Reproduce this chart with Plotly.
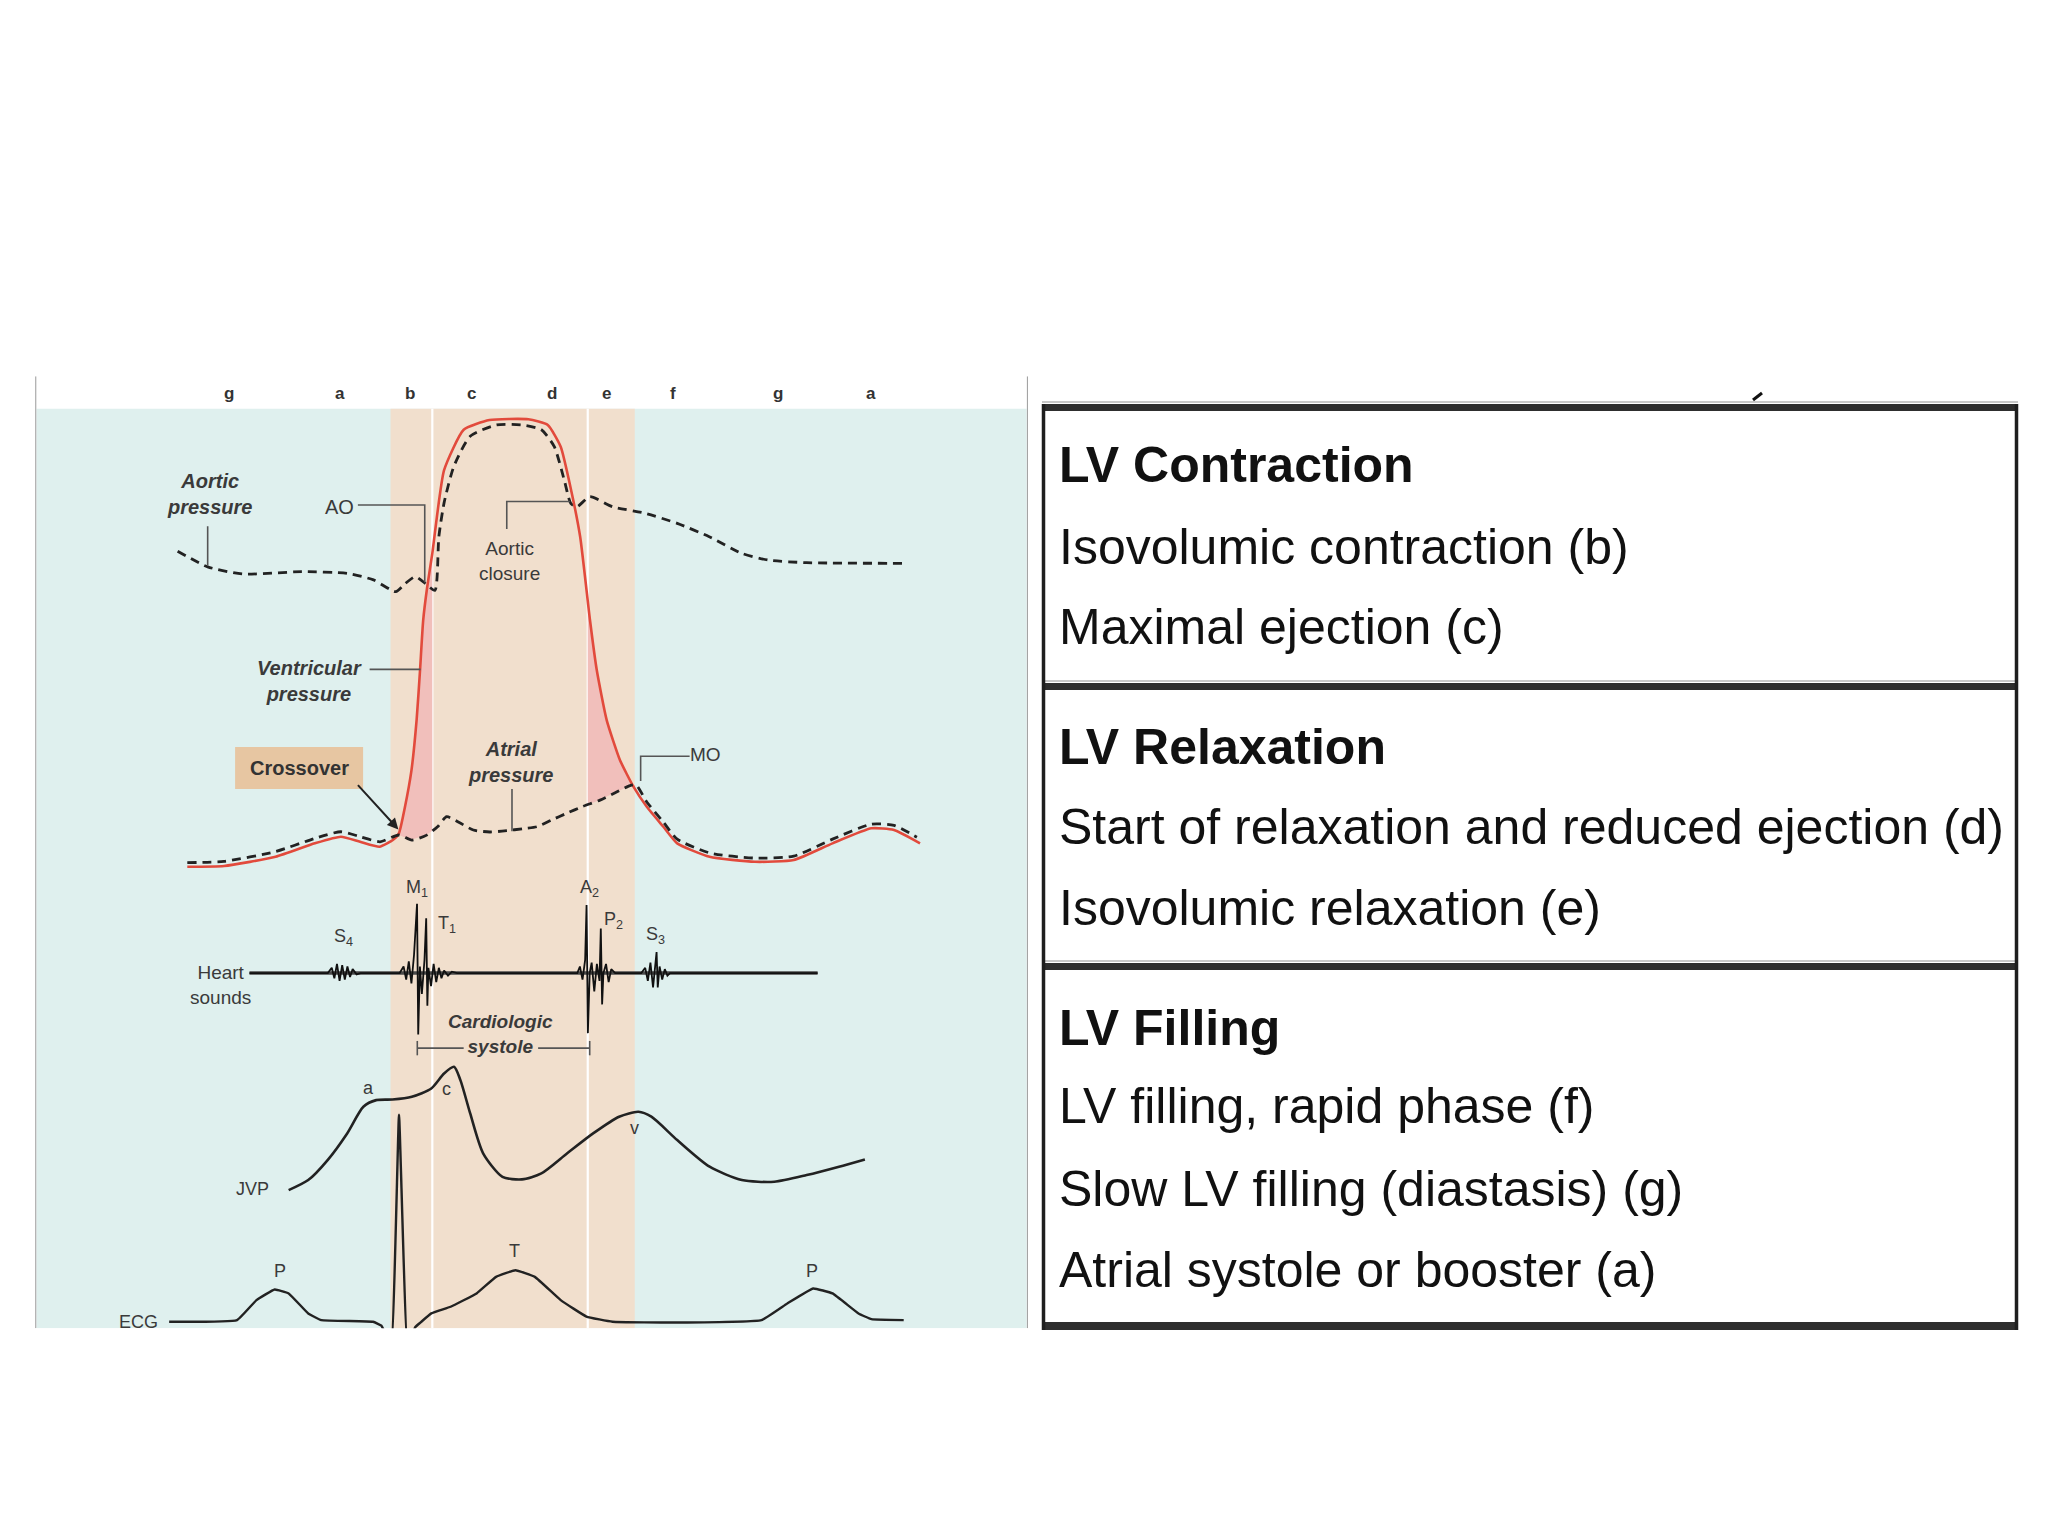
import numpy as np
import plotly.graph_objects as go

W, H = 2048, 1536

# ---------------- data (time axis in arbitrary units, level axis in arbitrary units, higher = up) -------------
phase_letters = ["g", "a", "b", "c", "d", "e", "f", "g", "a"]
phase_letter_t = [175, 260, 314, 361, 423, 464, 515, 596, 667]
phase_bounds = [299, 331, 450, 486]  # start b, start c, start e, start f

aortic_t = [136, 159, 186, 231, 266, 286, 303, 310, 318, 326, 333, 336, 340, 347.5, 360, 380, 400,
            414.5, 424.4, 432, 437, 441.7, 451.6, 469, 494, 518.5, 543, 568, 588, 617.6, 694]
aortic_p = [422, 434, 439.5, 437.7, 439, 444, 453, 447, 441.5, 447, 452, 411, 385, 357, 334, 325.4, 325.4,
            329, 342, 367.5, 385.4, 388, 380.3, 388, 393, 400.7, 410.9, 423.7, 428.8, 430.8, 431.3]

vent_t = [143.4, 171.6, 211, 241, 261, 275.7, 290.6, 301, 305.4, 310, 315, 319, 321.6, 324, 327, 331, 340, 355,
          374.8, 404.5, 419.4, 429.3, 436.7, 444.2, 451.7, 456.9, 464.5, 474.7, 485, 495.2, 507.9, 518.5,
          543.3, 578, 607.7, 637.4, 667.2, 684.5, 704.4]
vent_p = [663.6, 663, 656, 645.7, 640.6, 644.5, 648.3, 643, 638, 618, 590, 551, 513, 475, 450, 423.7, 360, 329,
          321.6, 321, 325.4, 342, 372.6, 411, 474.7, 513, 551.3, 582, 602.3, 617.7, 633, 645.7,
          656, 659.8, 658.5, 645.7, 634.2, 635.5, 645.7]

atrial_t = [143.4, 171.6, 211, 241, 261, 275.7, 291, 305.4, 315.3, 326.7, 335, 342, 352, 362.4, 375, 388, 400,
            411, 422, 433.9, 446, 459.4, 471, 482.4, 487, 495.2, 507.9, 518.5, 543.3, 578, 607.7, 637.4,
            667.2, 684.5, 702]
atrial_p = [660.5, 659.5, 652, 641.9, 636.8, 640.6, 644.5, 639.3, 643.2, 639.4, 633, 625.3, 630, 635.5, 637, 636,
            634.5, 633, 628, 622.7, 617.5, 612.6, 607, 601.5, 601, 614, 629.5, 642.5, 653, 657, 655.5, 642.5,
            631, 632, 641]

heart_t = [191, 251, 254, 256, 258, 260, 262, 264, 266, 268, 270, 273, 276,
           306, 309, 311, 313, 315, 317, 319.3, 320.2, 321.5, 323, 325, 326.3, 327.2, 328, 330, 332, 334, 336,
           338, 340, 343, 346, 350,
           442, 444, 446, 448, 449.1, 450.1, 451.5, 453, 455, 457, 459, 460, 461, 462, 464, 466, 468, 471,
           491, 494, 496, 498, 500, 502.7, 503.6, 505, 507, 509, 511, 513, 626]
heart_v = [745, 745, 741, 749, 738, 751, 739, 750, 740, 748, 742, 746, 745,
           745, 740, 750, 736, 753, 731, 692, 792, 740, 761, 735, 703, 770, 741, 755, 738, 752, 741,
           749, 743, 747, 744, 745,
           745, 740, 750, 735, 693, 791, 745, 737, 759, 738, 751, 711, 769, 745, 738, 752, 742, 745,
           745, 741, 751, 737, 756, 729, 756, 740, 750, 742, 747, 745, 745]

jvp_t = [221, 236, 251, 265.8, 278.2, 288, 300.5, 315.3, 330.2, 340, 347.6, 352.5, 360, 369.9, 384.7, 399.6,
         414.5, 434.3, 454.1, 474, 488.8, 498.7, 518.5, 543.3, 568, 592.8, 617.6, 642.4, 662.2]
jvp_v = [911.2, 903.5, 888, 867.8, 847.4, 842.3, 841.8, 839.7, 833.4, 821.9, 816.8, 827, 852.5, 883, 901, 903,
         898.4, 883, 867.8, 855, 851.2, 855, 872.9, 893.3, 903.5, 904.8, 899.7, 893.3, 887.7]

ecg_t = [129.5, 181.5, 196.4, 210.3, 221, 236, 246, 285.6, 292, 299.5, 305.5, 312, 318, 322, 330.2, 345,
         364.9, 379.8, 394.6, 409.5, 429.3, 449, 469, 518.5, 583, 602.8, 622.6, 637.4, 657.3, 667.2, 691.9]
ecg_v = [1012, 1010.7, 995.4, 987.3, 990.3, 1005.6, 1010.7, 1012, 1015, 1030, 853.5, 1030, 1016, 1012.5,
         1005.6, 1000.5, 990.3, 977.6, 972.5, 977.6, 995.4, 1008, 1012, 1012.6, 1010.7, 998, 986.5, 990.3,
         1005.6, 1010, 1010.7]

table_rows = [
    ("LV Contraction", ["Isovolumic contraction (b)", "Maximal ejection (c)"]),
    ("LV Relaxation", ["Start of relaxation and reduced ejection (d)", "Isovolumic relaxation (e)"]),
    ("LV Filling", ["LV filling, rapid phase (f)", "Slow LV filling (diastasis) (g)",
                    "Atrial systole or booster (a)"]),
]

# ---------------- styles ----------------
CYAN = "#dff0ee"
BEIGE = "#f1dfcd"
PINK = "#f1bfbb"
RED = "#e24a3c"
INK = "#222222"
LABEL = "#3a3a3a"
FONT = "Liberation Sans, Arial, Helvetica, sans-serif"
TABLE_FONT = "Liberation Sans, Arial, Helvetica, sans-serif"

T0, T1 = 27, 787
Y_TOP, Y_BOT = 288, 1017
SHADE_TOP = 313

fig = go.Figure()

vt = np.array(vent_t); vp = np.array(vent_p)
at = np.array(atrial_t); ap = np.array(atrial_p)
def pink_poly(t_start, t_end):
    grid = np.linspace(t_start, t_end, 40)
    top = np.interp(grid, vt, vp)
    bot = np.interp(grid, at, ap)
    xs = np.concatenate([grid, grid[::-1]])
    ys = np.concatenate([top, bot[::-1]])
    return xs, ys

for a, b in [(305.4, phase_bounds[1]), (phase_bounds[2], 486.3)]:
    xs, ys = pink_poly(a, b)
    fig.add_trace(go.Scatter(x=xs, y=ys, mode="lines", fill="toself", fillcolor=PINK,
                             line=dict(width=0), hoverinfo="skip", showlegend=False))

dash = "9px,6px"
fig.add_trace(go.Scatter(x=aortic_t, y=aortic_p, mode="lines",
                         line=dict(color=INK, width=2.8, dash=dash, shape="spline", smoothing=0.6),
                         showlegend=False))
fig.add_trace(go.Scatter(x=vent_t, y=vent_p, mode="lines",
                         line=dict(color=RED, width=2.6, shape="spline", smoothing=0.5), showlegend=False))
fig.add_trace(go.Scatter(x=atrial_t, y=atrial_p, mode="lines",
                         line=dict(color=INK, width=2.8, dash=dash, shape="spline", smoothing=0.6),
                         showlegend=False))
fig.add_trace(go.Scatter(x=[heart_t[0], heart_t[-1]], y=[heart_v[0], heart_v[-1]], mode="lines",
                         line=dict(color="#4a4a4a", width=3.5), showlegend=False))
fig.add_trace(go.Scatter(x=heart_t, y=heart_v, mode="lines",
                         line=dict(color="#111111", width=1.8), showlegend=False))
fig.add_trace(go.Scatter(x=jvp_t, y=jvp_v, mode="lines",
                         line=dict(color=INK, width=2.6, shape="spline", smoothing=0.7), showlegend=False))
fig.add_trace(go.Scatter(x=ecg_t, y=ecg_v, mode="lines",
                         line=dict(color=INK, width=2.4, shape="spline", smoothing=0.3), showlegend=False))

shapes = []
shapes.append(dict(type="rect", xref="x", yref="y", x0=T0 + 1, x1=T1 - 1, y0=SHADE_TOP, y1=Y_BOT,
                   fillcolor=CYAN, line=dict(width=0), layer="below"))
shapes.append(dict(type="rect", xref="x", yref="y", x0=phase_bounds[0], x1=phase_bounds[3], y0=SHADE_TOP,
                   y1=Y_BOT, fillcolor=BEIGE, line=dict(width=0), layer="below"))
for xb in (phase_bounds[1], phase_bounds[2]):
    shapes.append(dict(type="line", xref="x", yref="y", x0=xb, x1=xb, y0=SHADE_TOP, y1=Y_BOT,
                       line=dict(color="white", width=2.2), layer="below"))
for xb in (T0, T1):
    shapes.append(dict(type="line", xref="x", yref="y", x0=xb, x1=xb, y0=Y_TOP, y1=Y_BOT,
                       line=dict(color="#9a9a9a", width=2)))

def leader(points):
    path = "M " + " L ".join(f"{x},{y}" for x, y in points)
    shapes.append(dict(type="path", xref="x", yref="y", path=path,
                       line=dict(color="#555555", width=1.6)))

leader([(159, 403), (159, 433)])
leader([(274, 386.7), (325.2, 386.7), (325.2, 446)])
leader([(388, 405), (388, 384), (436.5, 384)])
leader([(283, 512.5), (322, 512.5)])
leader([(392, 604), (392, 636.5)])
leader([(528, 579), (490.5, 579), (490.5, 598)])
leader([(319.5, 802.5), (355, 802.5)])
leader([(412, 802.5), (451.5, 802.5)])
leader([(319.5, 797), (319.5, 808)])
leader([(451.5, 797), (451.5, 808)])
shapes.append(dict(type="rect", xref="x", yref="y", x0=180, x1=278, y0=572, y1=604,
                   fillcolor="#e7c6a2", line=dict(width=0)))

annotations = []
def txt(x, y, s, size=20, color=LABEL, xanchor="center", font=FONT, xref="x", yref="y"):
    annotations.append(dict(x=x, y=y, xref=xref, yref=yref, text=s, showarrow=False,
                            xanchor=xanchor, yanchor="middle",
                            font=dict(family=font, size=size, color=color)))

for lt, lx in zip(phase_letters, phase_letter_t):
    txt(lx, 301, f"<b>{lt}</b>", size=17, color="#333333")

txt(161, 378.5, "<b><i>Aortic</i></b><br><b><i>pressure</i></b>", size=20)
txt(260, 388, "AO", size=20)
txt(390, 429.5, "Aortic<br>closure", size=19)
txt(237, 521.5, "<b><i>Ventricular</i></b><br><b><i>pressure</i></b>", size=20)
txt(229, 588, "<b>Crossover</b>", size=20, color="#333333")
txt(391, 583.5, "<b><i>Atrial</i></b><br><b><i>pressure</i></b>", size=20)
txt(540, 578, "MO", size=19)
txt(319, 680, "M<sub>1</sub>", size=18)
txt(342, 708, "T<sub>1</sub>", size=18)
txt(451, 680, "A<sub>2</sub>", size=18)
txt(470, 705, "P<sub>2</sub>", size=18)
txt(502, 716, "S<sub>3</sub>", size=18)
txt(263, 718, "S<sub>4</sub>", size=18)
txt(169, 754, "Heart<br>sounds", size=19)
txt(383, 791.5, "<b><i>Cardiologic</i></b><br><b><i>systole</i></b>", size=19)
txt(282, 833, "a", size=18)
txt(342, 834, "c", size=18)
txt(486, 864, "v", size=18)
txt(193, 910, "JVP", size=18)
txt(394, 958, "T", size=18)
txt(214, 973, "P", size=18)
txt(622, 973, "P", size=18)
txt(106, 1012, "ECG", size=18)

annotations.append(dict(x=305, y=635, ax=273, ay=600, xref="x", yref="y", axref="x", ayref="y",
                        text="", showarrow=True, arrowhead=2, arrowsize=1.1, arrowwidth=2,
                        arrowcolor="#222222", standoff=0))

def px(x):
    return x / W
def py(y):
    return 1 - y / H

TL, TR = 1042, 2018
band = [(404, 411), (683, 690), (963, 970), (1322, 1330)]
for y0, y1 in band:
    shapes.append(dict(type="rect", xref="paper", yref="paper", x0=px(TL), x1=px(TR), y0=py(y1), y1=py(y0),
                       fillcolor="#2e2e2e", line=dict(width=0)))
for y0, _ in band[:3]:
    shapes.append(dict(type="line", xref="paper", yref="paper", x0=px(TL), x1=px(TR), y0=py(y0 - 2),
                       y1=py(y0 - 2), line=dict(color="#c8c8c8", width=2)))
for xb in (TL + 1.5, TR - 1.5):
    shapes.append(dict(type="line", xref="paper", yref="paper", x0=px(xb), x1=px(xb), y0=py(1330),
                       y1=py(404), line=dict(color="#1e1e1e", width=3.5)))
shapes.append(dict(type="line", xref="paper", yref="paper", x0=px(1753), x1=px(1762), y0=py(400), y1=py(393),
                   line=dict(color="#111111", width=3)))

line_y = [[465, 547, 627], [747, 827, 908], [1028, 1106, 1189, 1270]]
for (head, items), ys in zip(table_rows, line_y):
    txt(px(1057), py(ys[0]), f"<b>{head}</b>", size=50, color="#111111", xanchor="left", font=TABLE_FONT,
        xref="paper", yref="paper")
    for it, yy in zip(items, ys[1:]):
        txt(px(1057), py(yy), it, size=50, color="#111111", xanchor="left", font=TABLE_FONT,
            xref="paper", yref="paper")

fig.update_layout(
    width=W, height=H, margin=dict(l=0, r=0, t=0, b=0),
    paper_bgcolor="white", plot_bgcolor="rgba(0,0,0,0)",
    xaxis=dict(range=[T0, T1], domain=[T0 * 1.3061 / W, T1 * 1.3061 / W], visible=False, fixedrange=True),
    yaxis=dict(range=[Y_BOT, Y_TOP], domain=[1 - Y_BOT * 1.3061 / H, 1 - Y_TOP * 1.3061 / H], visible=False,
               fixedrange=True),
    shapes=shapes, annotations=annotations, showlegend=False,
)

fig.write_html("out.html", config={"displayModeBar": False},
               post_script="document.body.style.margin='0px';document.body.style.overflow='hidden';")
